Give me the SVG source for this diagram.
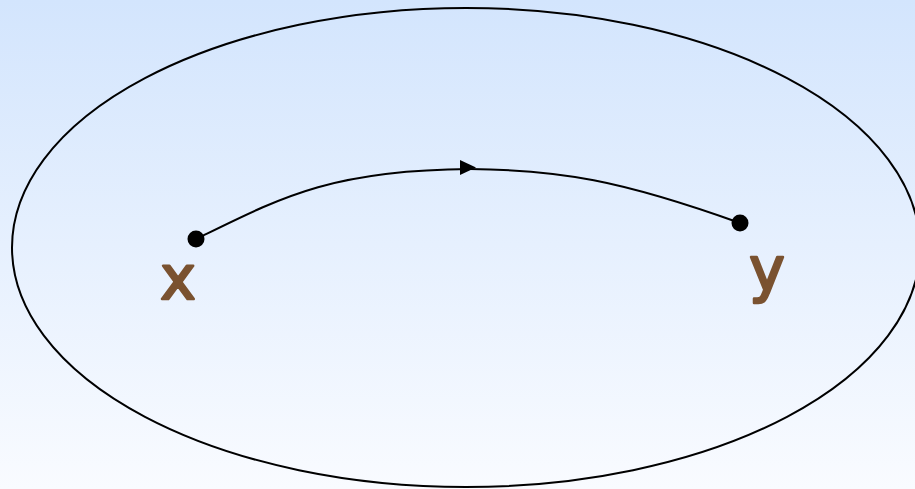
<svg xmlns="http://www.w3.org/2000/svg" width="915" height="489" viewBox="0 0 915 489">
<defs>
<linearGradient id="bg" x1="0" y1="0" x2="0" y2="1">
<stop offset="0" stop-color="#d3e5fd"/>
<stop offset="1" stop-color="#f9fbff"/>
</linearGradient>
</defs>
<style>
.lbl{font-family:"DejaVu Sans",sans-serif;font-size:60px;fill:#7a5230;stroke:#7a5230;stroke-width:2.5;stroke-linejoin:round;text-anchor:middle}
.dot{fill:#000}
.edge{fill:none;stroke:#000;stroke-width:2}
</style>
<rect x="0" y="0" width="915" height="489" fill="url(#bg)"/>
<g id="set">
<ellipse cx="466" cy="247.5" rx="454" ry="239.5" fill="none" stroke="#000" stroke-width="2"/>
</g>
<g id="connectors">
<path class="edge" d="M196,239 C280,198 330,170 470,169 C560,170 620,180 740,223"/>
<polygon points="460,160 476,167.5 460,175" fill="#000"/>
</g>
<g id="node-x">
<circle class="dot" cx="196" cy="239" r="8.5"/>
<text class="lbl" x="178" y="299">x</text>
</g>
<g id="node-y">
<circle class="dot" cx="740" cy="223" r="8.5"/>
<text class="lbl" x="767" y="290">y</text>
</g>
</svg>
